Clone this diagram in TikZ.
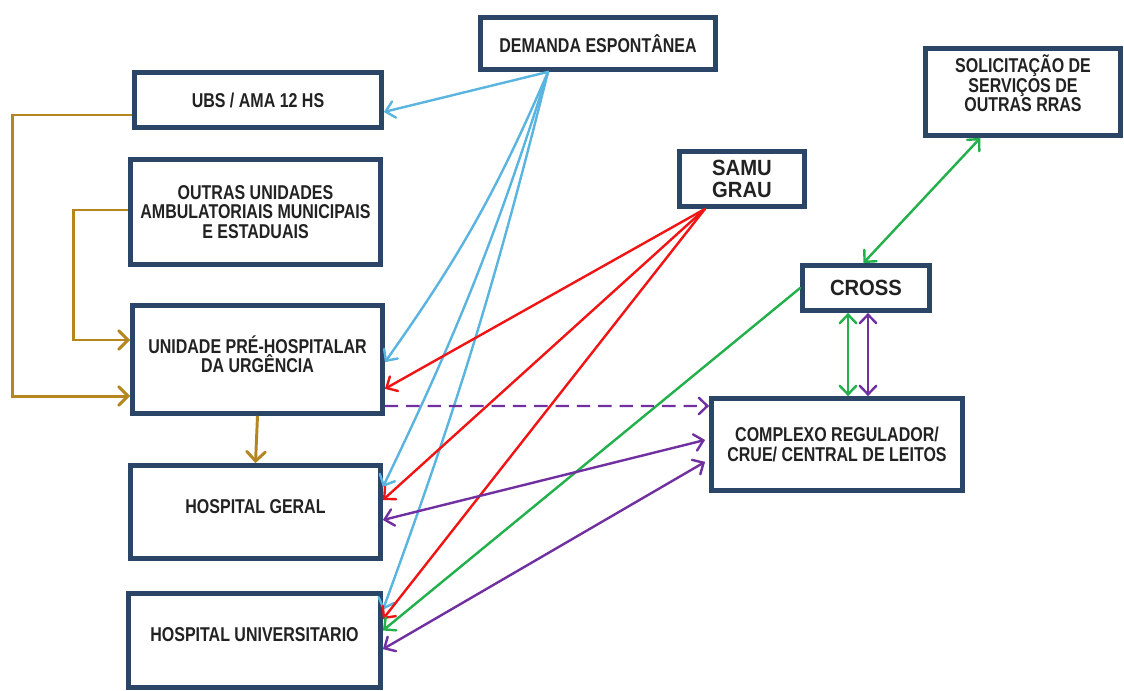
\documentclass[tikz,border=0pt]{standalone}
\usepackage{fontspec}
\setmainfont{Liberation Sans}[FakeStretch=0.8]
\newfontfamily\wideF{Liberation Sans}[FakeStretch=0.92]
\usetikzlibrary{arrows.meta}
\definecolor{boxc}{HTML}{2B4566}
\definecolor{txt}{HTML}{222222}
\definecolor{cblue}{HTML}{5AB4E0}
\definecolor{cred}{HTML}{F01414}
\definecolor{cgreen}{HTML}{22B04A}
\definecolor{cpurple}{HTML}{7030A0}
\definecolor{cbrown}{HTML}{B5851F}
\begin{document}
\begin{tikzpicture}[x=0.75pt,y=-0.75pt,
  box/.style={draw=boxc, line width=3.6pt, fill=white, rectangle, inner sep=0pt,
    align=center, text=txt, font=\bfseries\fontsize{15pt}{14.5pt}\selectfont},
  bigtext/.style={font=\wideF\bfseries\fontsize{16.5pt}{16.5pt}\selectfont},
  conn/.style={line width=1.8pt, line cap=round},
  tipE/.style={-{Straight Barb[length=6.5pt,width=12.5pt,line cap=round]}},
  tipB/.style={{Straight Barb[length=6.5pt,width=12.5pt,line cap=round]}-{Straight Barb[length=6.5pt,width=12.5pt,line cap=round]}},
  bluec/.style={conn, draw=cblue, tipE},
  redc/.style={conn, draw=cred, tipE},
  brownc/.style={line width=2.2pt, draw=cbrown, -{Straight Barb[length=7pt,width=14pt,line cap=round]}}
]
\useasboundingbox (0,0) rectangle (1124,691);
\fill[white] (0,0) rectangle (1124,691);

% boxes
\node[box, minimum width=176.25pt, minimum height=39pt] (dem) at (598,43.5) {DEMANDA ESPONTÂNEA};
\node[box, minimum width=185.25pt, minimum height=41.25pt] (ubs) at (258,100) {UBS / AMA 12 HS};
\node[box, minimum width=187.5pt, minimum height=78.75pt] (out) at (255.5,212) {OUTRAS UNIDADES\\AMBULATORIAIS MUNICIPAIS\\E ESTADUAIS};
\node[box, minimum width=187.5pt, minimum height=81pt] (uni) at (257.5,359.5) {UNIDADE PRÉ-HOSPITALAR\\DA URGÊNCIA\\[-6pt]};
\node[box, minimum width=187.5pt, minimum height=69.75pt] (hg) at (255.5,512) {HOSPITAL GERAL\\[-6pt]};
\node[box, minimum width=189pt, minimum height=70.5pt] (hu) at (254.5,640.5) {HOSPITAL UNIVERSITARIO\\[-5pt]};
\node[box, bigtext, minimum width=93.75pt, minimum height=41.25pt] (samu) at (742,179) {SAMU\\GRAU};
\node[box, bigtext, minimum width=95.25pt, minimum height=33.75pt] (cross) at (866,288) {CROSS};
\node[box, minimum width=188.25pt, minimum height=69pt] (comp) at (837,444.5) {COMPLEXO REGULADOR/\\CRUE/ CENTRAL DE LEITOS};
\node[box, minimum width=146.25pt, minimum height=65.25pt] (sol) at (1023,92) {SOLICITAÇÃO DE\\SERVIÇOS DE\\OUTRAS RRAS\\[-1.5pt]};

% brown connectors
\draw[brownc] ([yshift=-11.25pt]ubs.west) -- ++(-120,0) |- ([yshift=-27.4pt]uni.west);
\draw[brownc] ([yshift=1.5pt]out.west) -- ++(-55,0) |- ([yshift=14.6pt]uni.west);
\draw[brownc] (uni.south) -- (hg.north);

% blue connectors
\draw[bluec] ([xshift=-37.5pt]dem.south) -- ([yshift=-9pt]ubs.east);
\draw[bluec] ([xshift=-37.5pt]dem.south) to[bend left=6] ([yshift=-2pt]uni.east);
\draw[bluec] ([xshift=-37.5pt]dem.south) to[bend left=4] ([yshift=18.75pt]hg.east);
\draw[bluec] ([xshift=-37.5pt]dem.south) to[bend left=3] ([yshift=23pt]hu.east);

% red connectors
\draw[redc] ([xshift=-27.75pt]samu.south) -- ([yshift=-22pt]uni.east);
\draw[redc] ([xshift=-27.75pt]samu.south) -- ([yshift=9pt]hg.east);
\draw[redc] ([xshift=-27.75pt]samu.south) -- ([yshift=16pt]hu.east);

% green connectors
\draw[conn, draw=cgreen, tipE] (cross.west) -- ([yshift=7.5pt]hu.east);
\draw[conn, draw=cgreen, tipB] ([xshift=-32pt]sol.south) -- ([xshift=-2pt]cross.north);
\draw[conn, draw=cgreen, tipB] ([xshift=-13.5pt]cross.south) -- ([xshift=8.25pt]comp.north);

% purple connectors
\draw[conn, draw=cpurple, tipB] ([xshift=1.5pt]cross.south) -- ([xshift=23.25pt]comp.north);
\draw[conn, draw=cpurple, tipE, dash pattern=on 10pt off 6pt, line cap=butt] ([yshift=-34.9pt]uni.east) -- ([yshift=28.9pt]comp.west);
\draw[conn, draw=cpurple, tipB] ([yshift=-6pt]hg.east) -- ([xshift=-3pt,yshift=3.4pt]comp.west);
\draw[conn, draw=cpurple, tipB] ([yshift=-6.5pt]hu.east) -- ([xshift=-3pt,yshift=-13pt]comp.west);
\end{tikzpicture}
\end{document}
